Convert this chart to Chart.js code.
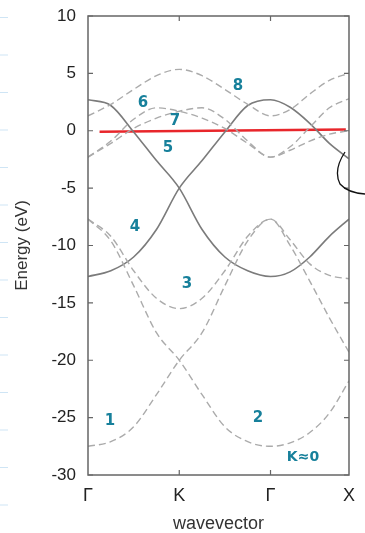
<!DOCTYPE html>
<html>
<head>
<meta charset="utf-8">
<script src="https://cdn.jsdelivr.net/npm/chart.js@4.4.1/dist/chart.umd.min.js"></script>
<style>
  body { margin: 0; background: #fff; }
  canvas { display: block; }
</style>
</head>
<body>
<canvas id="bands" width="365" height="533"></canvas>
<script>
// --- dati ---
// posizioni lungo il cammino Γ-K-Γ-X
const kPath = [0, 0.25, 0.5, 0.75, 1, 1.25, 1.5, 1.75, 2, 2.215, 2.43, 2.645, 2.86];
const kTicks = [0, 1, 2, 2.86];
const kLabels = ['Γ', 'K', 'Γ', 'X'];

// bande pi (linea continua)
const band4 = [-12.7, -12.2, -11.0, -8.6, -5.0, -2.6, -0.1, 2.2, 2.7, 2.05, 0.65, -1.1, -2.45];
const band5 = [2.7, 2.2, -0.1, -2.6, -5.0, -8.6, -11.0, -12.2, -12.7, -12.3, -11.0, -9.2, -7.7];

// bande sigma (tratteggiate)
const band1 = [-27.5, -27.1, -25.8, -23.0, -20.0, -17.6, -13.5, -9.6, -7.7, -10.0, -13.1, -16.3, -19.3];
const band2 = [-7.7, -9.6, -13.5, -17.6, -20.0, -23.0, -25.8, -27.1, -27.5, -27.2, -26.3, -24.6, -21.8];
const band3 = [-7.7, -9.2, -12.2, -14.6, -15.5, -14.6, -12.2, -9.2, -7.7, -9.5, -11.6, -12.6, -12.9];
const band6 = [-2.3, -0.9, 1.0, 2.0, 1.7, 1.1, 0.2, -1.1, -2.3, -1.4, 0.3, 2.0, 2.8];
const band7 = [-2.3, -1.1, 0.2, 1.1, 1.7, 2.0, 1.0, -0.9, -2.3, -1.7, -0.9, -0.3, 0.0];
const band8 = [1.3, 2.3, 3.6, 4.8, 5.35, 4.8, 3.6, 2.3, 1.3, 1.85, 3.2, 4.4, 5.0];

// linea rossa disegnata a mano (livello di Fermi)
const fermiK = [0.127, 2.825];
const fermiE = [-0.08, 0.11];

const yTicks = [-30, -25, -20, -15, -10, -5, 0, 5, 10];

const pts = (ys, xs = kPath) => ys.map((y, i) => ({ x: xs[i], y }));

function solid(data) {
    return { data: pts(data), borderColor: '#7b7b7b', borderWidth: 1.6, pointRadius: 0,
             cubicInterpolationMode: 'monotone', fill: false };
}
function dashed(data) {
    return { data: pts(data), borderColor: '#ababab', borderWidth: 1.4, borderDash: [7, 4],
             pointRadius: 0, cubicInterpolationMode: 'monotone', fill: false };
}

// --- cornice e tacche verso l'interno (stile gnuplot) ---
const frame = {
    id: 'frame',
    afterDatasetsDraw(chart) {
        const { ctx, chartArea: a, scales } = chart;
        ctx.save();
        ctx.strokeStyle = '#666';
        ctx.lineWidth = 1.5;
        ctx.strokeRect(a.left, a.top, a.right - a.left, a.bottom - a.top);
        ctx.lineWidth = 1.2;
        ctx.beginPath();
        yTicks.forEach(v => {
            const y = scales.y.getPixelForValue(v);
            ctx.moveTo(a.left, y); ctx.lineTo(a.left + 5, y);
            ctx.moveTo(a.right, y); ctx.lineTo(a.right - 5, y);
        });
        kTicks.slice(1, -1).forEach(v => {
            const x = scales.x.getPixelForValue(v);
            ctx.moveTo(x, a.top); ctx.lineTo(x, a.top + 5);
            ctx.moveTo(x, a.bottom); ctx.lineTo(x, a.bottom - 5);
        });
        ctx.stroke();
        ctx.restore();
    }
};

// --- appunti scritti a mano sopra il grafico ---
const notes = {
    id: 'notes',
    afterDraw(chart) {
        const ctx = chart.ctx;
        ctx.save();
        // righe del quaderno sul bordo sinistro
        ctx.strokeStyle = '#cfe5f5';
        ctx.lineWidth = 1;
        for (let i = 0; i < 14; i++) {
            const y = 17.5 + i * 37.5;
            ctx.beginPath(); ctx.moveTo(0, y); ctx.lineTo(8, y); ctx.stroke();
        }
        // numeri delle bande
        ctx.fillStyle = '#17809b';
        ctx.font = 'bold 15px "DejaVu Sans"';
        ctx.textAlign = 'center';
        ctx.textBaseline = 'middle';
        const labels = [['1', 110, 421], ['2', 258, 418], ['3', 187, 284], ['4', 135, 227],
                        ['5', 168, 148], ['6', 143, 103], ['7', 175, 121], ['8', 238, 86]];
        labels.forEach(([t, x, y]) => ctx.fillText(t, x, y));
        ctx.font = 'bold 14px "DejaVu Sans"';
        ctx.fillText('K≈0', 303, 457);
        // arco nero a destra
        ctx.strokeStyle = '#111';
        ctx.lineWidth = 1.3;
        ctx.beginPath();
        ctx.moveTo(345, 152);
        ctx.quadraticCurveTo(333, 170, 340, 184);
        ctx.quadraticCurveTo(348, 193, 365, 194);
        ctx.stroke();
        ctx.restore();
    }
};

new Chart(document.getElementById('bands'), {
    type: 'line',
    data: {
        datasets: [
            dashed(band1), dashed(band2), dashed(band3),
            dashed(band6), dashed(band7), dashed(band8),
            solid(band4), solid(band5),
            { data: pts(fermiE, fermiK), borderColor: '#e8262b', borderWidth: 2.5, pointRadius: 0, fill: false }
        ]
    },
    options: {
        responsive: false,
        animation: false,
        devicePixelRatio: 1,
        layout: { padding: { top: 16, right: 7, left: 0, bottom: 0 } },
        plugins: { legend: { display: false }, tooltip: { enabled: false } },
        scales: {
            x: {
                type: 'linear', min: 0, max: 2.86,
                grid: { display: false, drawTicks: false },
                border: { display: false },
                afterBuildTicks: s => { s.ticks = kTicks.map(v => ({ value: v })); },
                afterFit: s => { s.height = 58; },
                ticks: {
                    autoSkip: false, maxRotation: 0, padding: 10,
                    color: '#222', font: { family: 'Liberation Sans', size: 18 },
                    callback: (v, i) => kLabels[i]
                },
                title: { display: true, text: 'wavevector', color: '#333',
                         font: { family: 'Liberation Sans', size: 18 }, padding: { top: 0, bottom: -2 } }
            },
            y: {
                min: -30, max: 10,
                grid: { display: false, drawTicks: false },
                border: { display: false },
                afterBuildTicks: s => { s.ticks = yTicks.map(v => ({ value: v })); },
                afterFit: s => { s.width = 88; s.paddingTop = 0; },
                ticks: { padding: 12, color: '#222', font: { family: 'Liberation Sans', size: 17 } },
                title: { display: true, text: 'Energy (eV)', color: '#333',
                         font: { family: 'Liberation Sans', size: 17 }, padding: { top: 12, bottom: 0 } }
            }
        }
    },
    plugins: [frame, notes]
});
</script>
</body>
</html>
